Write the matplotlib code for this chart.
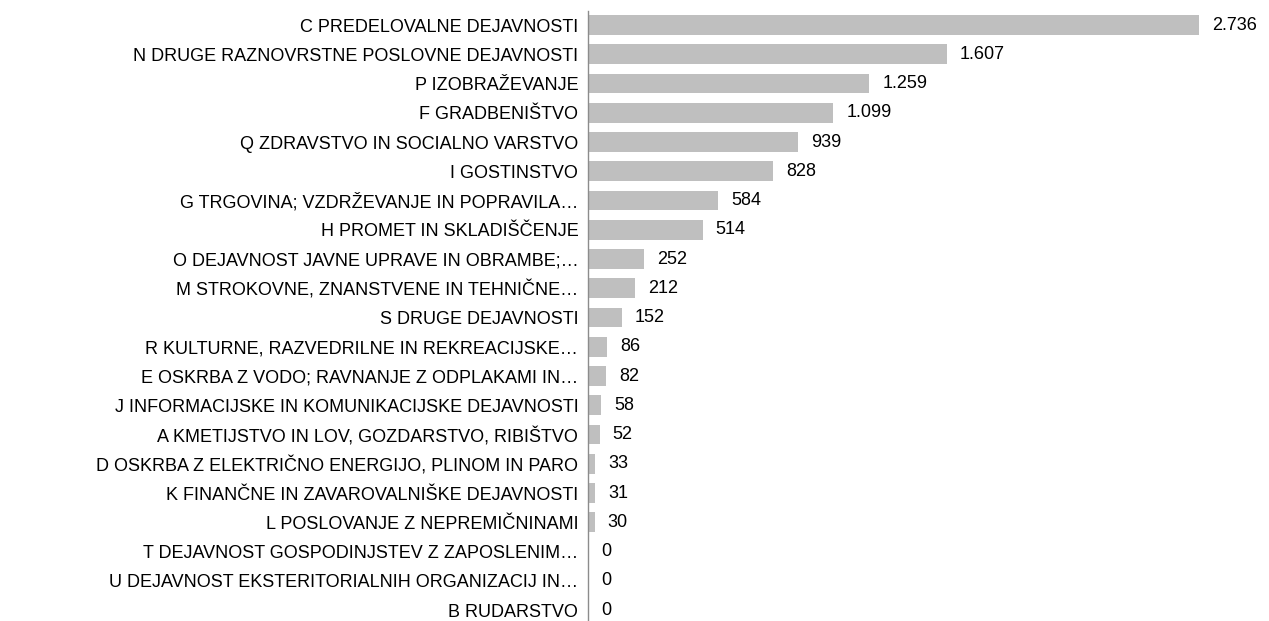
import matplotlib
matplotlib.use("Agg")
from matplotlib import pyplot as plt

categories = [
    "C PREDELOVALNE DEJAVNOSTI",
    "N DRUGE RAZNOVRSTNE POSLOVNE DEJAVNOSTI",
    "P IZOBRAŽEVANJE",
    "F GRADBENIŠTVO",
    "Q ZDRAVSTVO IN SOCIALNO VARSTVO",
    "I GOSTINSTVO",
    "G TRGOVINA; VZDRŽEVANJE IN POPRAVILA…",
    "H PROMET IN SKLADIŠČENJE",
    "O DEJAVNOST JAVNE UPRAVE IN OBRAMBE;…",
    "M STROKOVNE, ZNANSTVENE IN TEHNIČNE…",
    "S DRUGE DEJAVNOSTI",
    "R KULTURNE, RAZVEDRILNE IN REKREACIJSKE…",
    "E OSKRBA Z VODO; RAVNANJE Z ODPLAKAMI IN…",
    "J INFORMACIJSKE IN KOMUNIKACIJSKE DEJAVNOSTI",
    "A KMETIJSTVO IN LOV, GOZDARSTVO, RIBIŠTVO",
    "D OSKRBA Z ELEKTRIČNO ENERGIJO, PLINOM IN PARO",
    "K FINANČNE IN ZAVAROVALNIŠKE DEJAVNOSTI",
    "L POSLOVANJE Z NEPREMIČNINAMI",
    "T DEJAVNOST GOSPODINJSTEV Z ZAPOSLENIM…",
    "U DEJAVNOST EKSTERITORIALNIH ORGANIZACIJ IN…",
    "B RUDARSTVO",
]
values = [2736, 1607, 1259, 1099, 939, 828, 584, 514, 252, 212, 152,
          86, 82, 58, 52, 33, 31, 30, 0, 0, 0]

plt.rcParams["font.family"] = ["Liberation Sans", "DejaVu Sans"]

W, H = 1269, 621
fig = plt.figure(figsize=(W / 100, H / 100), dpi=100)
ax = fig.add_axes([588 / W, 0, 1 - 588 / W, 1 - 11 / H])

pos = list(range(len(categories)))
ax.barh(pos, values, height=0.68, color="#bfbfbf")
ax.set_xlim(0, (W - 588) / 0.2233)
ax.set_ylim(len(categories) - 1 + 0.376, -0.48)

ax.set_yticks(pos)
ax.set_yticklabels(categories, fontsize=13, color="#000000")
ax.tick_params(axis="y", length=0, pad=7)
ax.set_xticks([])

for s in ["top", "right", "bottom"]:
    ax.spines[s].set_visible(False)
ax.spines["left"].set_color("#8c8c8c")
ax.spines["left"].set_linewidth(1.0)

# value labels with dot as thousands separator
for p, v in zip(pos, values):
    txt = f"{v:,}".replace(",", ".")
    ax.annotate(txt, (v, p), xytext=(13, 0), textcoords="offset pixels",
                va="center", ha="left", fontsize=13, color="#000000")

fig.savefig("out.png", dpi=100)
